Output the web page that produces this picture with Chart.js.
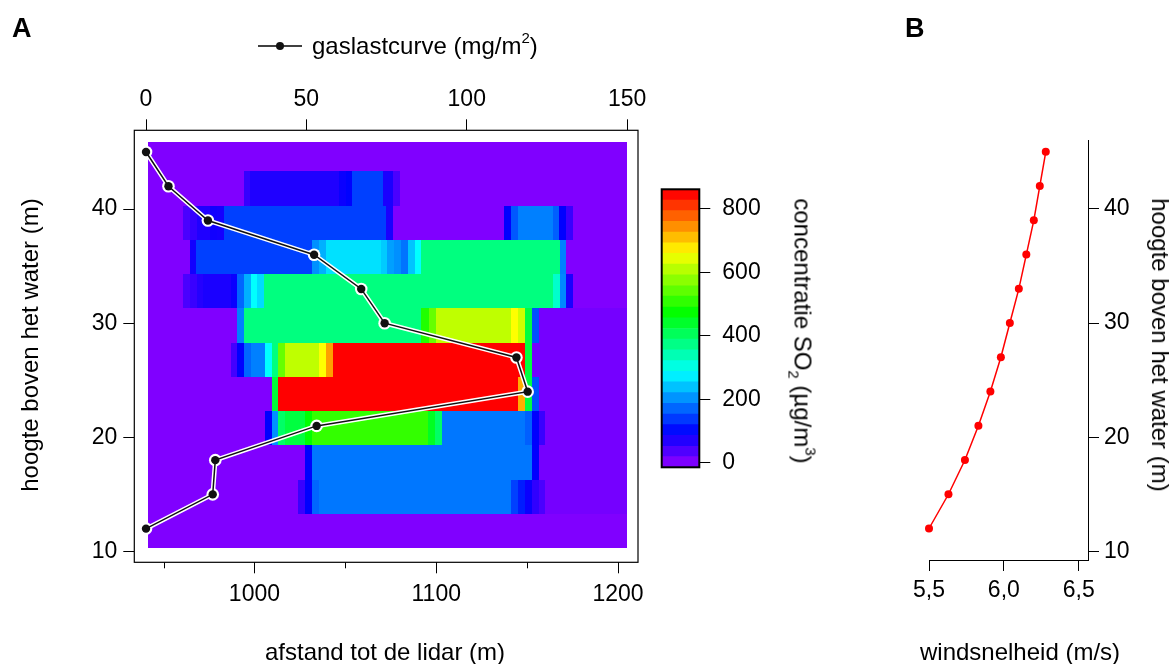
<!DOCTYPE html>
<html>
<head>
<meta charset="utf-8">
<script src="https://cdn.jsdelivr.net/npm/chart.js@4.4.1/dist/chart.umd.min.js"></script>
<style>
  body { margin: 0; background: #fff; width: 1174px; height: 664px; overflow: hidden; position: relative;
         font-family: "Liberation Sans", Arial, sans-serif; color: #000; }
  canvas { position: absolute; top: 0; }
  .t { position: absolute; font-size: 24px; white-space: nowrap; line-height: 26px; }
  .c { transform: translate(-50%, -50%); }
  .up { transform: translate(-50%, -50%) rotate(-90deg); }
  .down { transform: translate(-50%, -50%) rotate(90deg); }
  .sup { font-size: 15px; position: relative; top: -11px; }
  .sub { font-size: 15px; position: relative; top: 6px; }
  .panel { position: absolute; font-size: 27px; font-weight: bold; }
</style>
</head>
<body>
<canvas id="chartA" width="660" height="664" style="left:0"></canvas>
<canvas id="chartBar" width="160" height="664" style="left:640px"></canvas>
<canvas id="chartB" width="294" height="664" style="left:880px"></canvas>

<div class="panel" style="left:12px;top:13px">A</div>
<div class="panel" style="left:905px;top:13px">B</div>
<div class="t" style="left:312px;top:33px">gaslastcurve (mg/m<span class="sup">2</span>)</div>
<div class="t c" style="left:385px;top:652px">afstand tot de lidar (m)</div>
<div class="t c" style="left:1020px;top:652px">windsnelheid (m/s)</div>
<div class="t up" style="left:30px;top:345px">hoogte boven het water (m)</div>
<div class="t down" style="left:1160px;top:345px">hoogte boven het water (m)</div>
<div class="t down" style="left:801px;top:331px">concentratie SO<span class="sub">2</span> (µg/m<span class="sup">3</span>)</div>

<script>
// ------------------------------------------------------
// Data
// ------------------------------------------------------

// gaslastcurve (mg/m2) per hoogte
const gasHeights = [45, 42, 39, 36, 33, 30, 27, 24, 21, 18, 15, 12];
const gasLoad = [0, 7, 19.3, 52.4, 67.1, 74.4, 115.5, 119, 53.2, 21.6, 20.8, 0];

// windsnelheid (m/s) per hoogte
const windHeights = [12, 15, 18, 21, 24, 27, 30, 33, 36, 39, 42, 45];
const windSpeed = [5.50, 5.63, 5.74, 5.83, 5.91, 5.98, 6.04, 6.10, 6.15, 6.20, 6.24, 6.28];

// heatmap: rijgrenzen (m) en afstandsbereik (m)
const rowEdges = [10.3, 13.3, 16.3, 19.3, 22.3, 25.3, 28.3, 31.3, 34.3, 37.3, 40.3, 43.3, 45.9];
const heatStart = 941.7;
const heatEnd = 1204.8;

// per rij: [afstand van, afstand tot, concentratie SO2]
const conc12 = [];
const conc15 = [[1024.2,1028,52],[1028,1031.6,94],[1031.6,1035.6,170],[1035.6,1141.3,183],[1141.3,1145,142],
  [1145,1148.9,115],[1148.9,1152.6,87],[1152.6,1156.3,59],[1156.3,1160,40],[1160,1204.8,8]];
const conc18 = [[1028,1031.6,94],[1031.6,1152.6,183],[1152.6,1156.3,94],[1156.3,1204.8,8]];
const conc21 = [[1005.8,1009.4,94],[1009.4,1013,201],[1013,1017,397],[1017,1027.9,425],[1027.9,1031.6,472],
  [1031.6,1095.7,510],[1095.7,1099.4,447],[1099.4,1103,397],[1103,1148.8,183],[1148.8,1152.6,165],
  [1152.6,1156.3,94],[1156.3,1160,52],[1160,1204.8,8]];
const conc24 = [[1009.4,1013,430],[1013,1145,870],[1145,1148.9,721],[1148.9,1152.6,425],[1152.6,1156.3,154],
  [1156.3,1204.8,8]];
const conc27 = [[987.1,990.5,45],[990.5,994.2,94],[994.2,998,170],[998,1005.8,189],[1005.8,1009.4,283],
  [1009.4,1013,378],[1013,1016.9,548],[1016.9,1035.7,614],[1035.7,1039.2,661],[1039.2,1043,732],
  [1043,1148.8,870],[1148.8,1152.6,425],[1152.6,1204.8,8]];
const conc30 = [[990.5,994.2,189],[994.2,1091.6,378],[1091.6,1095.8,496],[1095.8,1099.7,548],[1099.7,1141.2,614],
  [1141.2,1145,661],[1145,1148.9,626],[1148.9,1152.6,425],[1152.6,1156.3,154],[1156.3,1204.8,8]];
const conc33 = [[960.6,964.4,40],[964.4,968.4,52],[968.4,971.6,68],[971.6,987.3,75],[987.3,990.5,87],
  [990.5,994.2,170],[994.2,997.9,225],[997.9,1001.5,283],[1001.5,1005.2,257],[1005.2,1164.1,378],
  [1164.1,1167.9,321],[1167.9,1171.5,195],[1171.5,1175.2,75]];
const conc36 = [[964.5,967.7,82],[967.7,1031.8,142],[1031.8,1035.6,201],[1035.6,1039.1,225],[1039.1,1069.4,261],
  [1069.4,1072.9,245],[1072.9,1076.9,213],[1076.9,1080.6,201],[1080.6,1084.4,180],[1084.4,1088.1,240],
  [1088.1,1091.7,283],[1091.7,1167.9,378],[1167.9,1171.4,189]];
const conc39 = [[960.6,964.5,40],[964.5,968.3,55],[968.3,975.8,71],[975.8,979.6,82],[979.6,983.2,80],
  [983.2,1072.5,142],[1072.5,1076.4,75],[1137.2,1141.2,94],[1141.2,1145,160],[1145,1164.1,189],
  [1164.1,1167.8,165],[1167.8,1171.5,94],[1171.5,1175.2,52]];
const conc42 = [[994.2,997.8,55],[997.8,1046.6,71],[1046.6,1050.1,87],[1050.1,1053.4,95],[1053.4,1070.5,142],
  [1070.5,1076.4,75],[1076.4,1080.2,40]];
const conc45 = [];
const rowSegments = [conc12, conc15, conc18, conc21, conc24, conc27, conc30, conc33, conc36, conc39, conc42, conc45];

// kleurenschaal
const colorbarEdges = [-15, 19, 52, 86, 120, 153, 187, 221, 255, 288, 322, 356, 390, 423, 457,
  491, 525, 558, 592, 626, 660, 693, 727, 761, 795, 828, 862];
const colorbarTicks = [0, 200, 400, 600, 800];
const minorDistTicks = [950, 1050, 1150];

// ------------------------------------------------------
// Helpers
// ------------------------------------------------------
const FONT = { family: "'Liberation Sans', Arial, sans-serif", size: 23 };
Chart.defaults.font.family = FONT.family;
Chart.defaults.font.size = FONT.size;
Chart.defaults.color = "#000";

// regenboog: 0 = paars, 850+ = rood
function concColor(v) {
  const c = Math.max(0, Math.min(850, v));
  const hue = 270 * (1 - c / 850);
  return `hsl(${hue.toFixed(1)},100%,50%)`;
}

function axisOpts(extra) {
  return Object.assign({
    type: "linear",
    grid: { drawOnChartArea: false, drawTicks: true, tickLength: 11, tickColor: "#000", tickWidth: 1 },
    border: { display: false }
  }, extra);
}

function tickOpts(extra) {
  return Object.assign({ color: "#000", font: FONT, includeBounds: false, maxRotation: 0, padding: 6,
    callback: v => String(v) }, extra);
}

// ------------------------------------------------------
// Panel A: heatmap + gaslastcurve
// ------------------------------------------------------
const heatmapPlugin = {
  id: "heatmap",
  beforeDatasetsDraw(chart) {
    const { ctx, scales: { x, y } } = chart;
    ctx.save();
    const fill = (d0, d1, h0, h1, v) => {
      const x0 = Math.round(x.getPixelForValue(d0)), x1 = Math.round(x.getPixelForValue(d1));
      const y0 = Math.round(y.getPixelForValue(h1)), y1 = Math.round(y.getPixelForValue(h0));
      ctx.fillStyle = concColor(v);
      ctx.fillRect(x0, y0, x1 - x0, y1 - y0);
    };
    rowSegments.forEach((row, r) => {
      fill(heatStart, heatEnd, rowEdges[r], rowEdges[r + 1], 0);
      row.forEach(s => fill(s[0], s[1], rowEdges[r], rowEdges[r + 1], s[2]));
    });
    ctx.restore();
  },
  afterDraw(chart) {
    const { ctx, chartArea: a, scales: { x } } = chart;
    ctx.save();
    ctx.strokeStyle = "#000";
    ctx.lineWidth = 1.2;
    ctx.strokeRect(a.left, a.top, a.right - a.left, a.bottom - a.top);
    // kleine tickjes
    ctx.lineWidth = 1;
    minorDistTicks.forEach(d => {
      const px = Math.round(x.getPixelForValue(d)) + 0.5;
      ctx.beginPath(); ctx.moveTo(px, a.bottom); ctx.lineTo(px, a.bottom + 6); ctx.stroke();
    });
    // legenda-symbool
    ctx.lineWidth = 1.5;
    ctx.beginPath(); ctx.moveTo(258, 46); ctx.lineTo(302, 46); ctx.stroke();
    ctx.fillStyle = "#111";
    ctx.beginPath(); ctx.arc(280, 46, 4, 0, Math.PI * 2); ctx.fill();
    ctx.restore();
  }
};

const gasPoints = gasHeights.map((h, i) => ({ x: gasLoad[i], y: h }));

new Chart(document.getElementById("chartA"), {
  type: "scatter",
  data: {
    datasets: [
      // zwart bovenop (index 0 wordt als laatste getekend)
      { data: gasPoints, xAxisID: "x2", showLine: true, borderColor: "#111", borderWidth: 1.5,
        pointRadius: 4.2, pointBackgroundColor: "#111", pointBorderWidth: 0, clip: false },
      { data: gasPoints, xAxisID: "x2", showLine: true, borderColor: "#fff", borderWidth: 4.5,
        pointRadius: 6.3, pointBackgroundColor: "#fff", pointBorderWidth: 0, clip: false }
    ]
  },
  options: {
    responsive: false, animation: false, devicePixelRatio: 1,
    layout: { padding: { left: 0, top: 0, right: 22, bottom: 0 } },
    plugins: { legend: { display: false }, tooltip: { enabled: false } },
    scales: {
      x: axisOpts({ position: "bottom", min: 933.9, max: 1211,
        ticks: tickOpts({ stepSize: 100, padding: 8 }),
        afterFit: s => { s.height = 101.7; } }),
      x2: axisOpts({ position: "top", min: -3.65, max: 153.4,
        ticks: tickOpts({ stepSize: 50, padding: 6 }),
        afterFit: s => { s.height = 130.3; } }),
      y: axisOpts({ position: "left", min: 9.05, max: 46.9,
        ticks: tickOpts({ stepSize: 10, padding: 6 }),
        afterFit: s => { s.width = 134.3; } })
    }
  },
  plugins: [heatmapPlugin]
});

// ------------------------------------------------------
// Kleurenbalk
// ------------------------------------------------------
const barSets = [];
for (let i = 0; i < colorbarEdges.length - 1; i++) {
  const lo = colorbarEdges[i], hi = colorbarEdges[i + 1];
  barSets.push({ data: [[lo, hi]], backgroundColor: concColor((lo + hi) / 2), borderWidth: 0,
    barPercentage: 1, categoryPercentage: 1, grouped: false });
}

new Chart(document.getElementById("chartBar"), {
  type: "bar",
  data: { labels: [""], datasets: barSets },
  options: {
    responsive: false, animation: false, devicePixelRatio: 1,
    layout: { padding: { left: 21.7, top: 189.3, right: 0, bottom: 196.7 } },
    plugins: { legend: { display: false }, tooltip: { enabled: false } },
    scales: {
      x: { display: false },
      y: axisOpts({ position: "right", min: -14.5, max: 862,
        afterBuildTicks: s => { s.ticks = colorbarTicks.map(v => ({ value: v })); },
        ticks: tickOpts({ padding: 12 }),
        afterFit: s => { s.width = 100.7; } })
    }
  },
  plugins: [{
    id: "cbframe",
    afterDraw(chart) {
      const { ctx, chartArea: a } = chart;
      ctx.save();
      ctx.strokeStyle = "#000"; ctx.lineWidth = 2;
      ctx.strokeRect(a.left, a.top, a.right - a.left, a.bottom - a.top);
      ctx.restore();
    }
  }]
});

// ------------------------------------------------------
// Panel B: windsnelheid
// ------------------------------------------------------
new Chart(document.getElementById("chartB"), {
  type: "scatter",
  data: {
    datasets: [{
      data: windHeights.map((h, i) => ({ x: windSpeed[i], y: h })),
      showLine: true, borderColor: "#ff0000", borderWidth: 1.5,
      pointRadius: 4, pointBackgroundColor: "#ff0000", pointBorderWidth: 0, clip: false
    }]
  },
  options: {
    responsive: false, animation: false, devicePixelRatio: 1,
    layout: { padding: { left: 49, top: 140, right: 0, bottom: 0 } },
    plugins: { legend: { display: false }, tooltip: { enabled: false } },
    scales: {
      x: axisOpts({ position: "bottom", min: 5.5, max: 6.562,
        border: { display: true, color: "#000", width: 1 },
        ticks: tickOpts({ stepSize: 0.5, padding: 6, callback: v => v.toFixed(1).replace(".", ",") }),
        afterFit: s => { s.height = 104; } }),
      y: axisOpts({ position: "right", min: 9.24, max: 46.04,
        border: { display: true, color: "#000", width: 1 },
        ticks: tickOpts({ stepSize: 10, padding: 5 }),
        afterFit: s => { s.width = 86; } })
    }
  }
});
</script>
</body>
</html>
